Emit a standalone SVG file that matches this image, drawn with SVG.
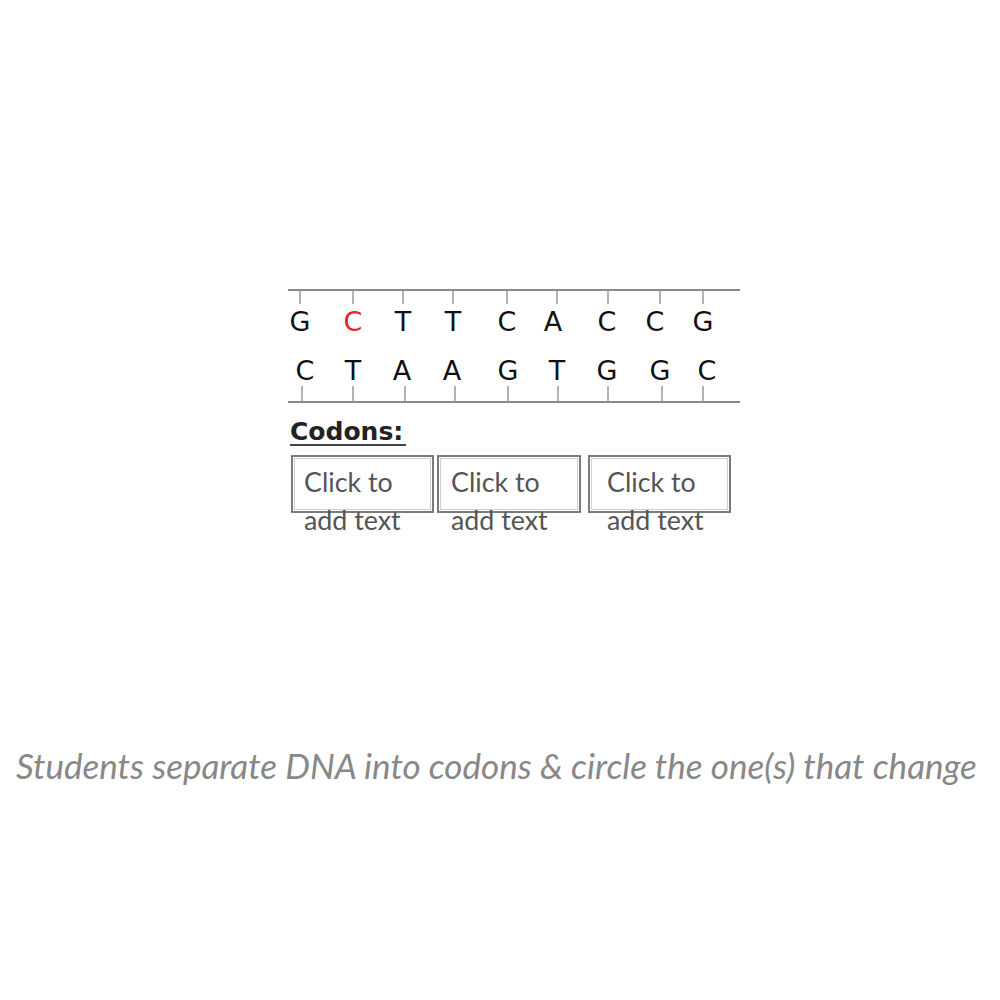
<svg xmlns="http://www.w3.org/2000/svg" width="1000" height="1000" viewBox="0 0 1000 1000">
<style>
.rail{stroke:#8a8a8a;stroke-width:2;fill:none}
.tick{stroke:#9a9a9a;stroke-width:1.5}
.base{font-family:"DejaVu Sans",sans-serif;font-size:27px;fill:#111;text-anchor:middle}
.red{fill:#e0262b}
.box{fill:#fff;stroke:#7a7a7a;stroke-width:2}
.boxin{fill:none;stroke:#d0d0d0;stroke-width:1}
.ph{font-family:Lato,"Liberation Sans",sans-serif;font-size:26.8px;fill:#555}
.cap{font-family:Lato,"Liberation Sans",sans-serif;font-style:italic;font-size:35px;fill:#888}
</style>
<rect width="1000" height="1000" fill="#fff"/>
<g id="dna">
<line class="rail" x1="288" y1="290" x2="740" y2="290"/>
<line class="rail" x1="288" y1="402" x2="740" y2="402"/>
<g class="tick">
<line x1="300" y1="290" x2="300" y2="304"/><line x1="353" y1="290" x2="353" y2="304"/><line x1="403" y1="290" x2="403" y2="304"/><line x1="453" y1="290" x2="453" y2="304"/><line x1="507" y1="290" x2="507" y2="304"/><line x1="557" y1="290" x2="557" y2="304"/><line x1="608" y1="290" x2="608" y2="304"/><line x1="660" y1="290" x2="660" y2="304"/><line x1="703" y1="290" x2="703" y2="304"/>
<line x1="302" y1="386" x2="302" y2="402"/><line x1="353" y1="386" x2="353" y2="402"/><line x1="405" y1="386" x2="405" y2="402"/><line x1="455" y1="386" x2="455" y2="402"/><line x1="508" y1="386" x2="508" y2="402"/><line x1="558" y1="386" x2="558" y2="402"/><line x1="608" y1="386" x2="608" y2="402"/><line x1="662" y1="386" x2="662" y2="402"/><line x1="703" y1="386" x2="703" y2="402"/>
</g>
<g id="top-strand">
<text class="base" x="300" y="331">G</text><text class="base red" x="353" y="331">C</text><text class="base" x="403" y="331">T</text><text class="base" x="453" y="331">T</text><text class="base" x="507" y="331">C</text><text class="base" x="553" y="331">A</text><text class="base" x="607" y="331">C</text><text class="base" x="655" y="331">C</text><text class="base" x="703" y="331">G</text>
</g>
<g id="bottom-strand">
<text class="base" x="305" y="380">C</text><text class="base" x="353" y="380">T</text><text class="base" x="402" y="380">A</text><text class="base" x="452" y="380">A</text><text class="base" x="508" y="380">G</text><text class="base" x="557" y="380">T</text><text class="base" x="607" y="380">G</text><text class="base" x="660" y="380">G</text><text class="base" x="707" y="380">C</text>
</g>
</g>
<g id="codons-label">
<text x="290" y="440" font-family="DejaVu Sans,sans-serif" font-size="25" font-weight="bold" fill="#222">Codons:</text>
<line x1="290" y1="445" x2="406" y2="445" stroke="#444" stroke-width="2"/>
</g>
<g id="codon1">
<rect class="box" x="292" y="456" width="141" height="56"/><rect class="boxin" x="294.5" y="458.5" width="136" height="51"/>
<text class="ph" x="304" y="492">Click to</text><text class="ph" x="304" y="530">add text</text>
</g>
<g id="codon2">
<rect class="box" x="438" y="456" width="142" height="56"/><rect class="boxin" x="440.5" y="458.5" width="137" height="51"/>
<text class="ph" x="451" y="492">Click to</text><text class="ph" x="451" y="530">add text</text>
</g>
<g id="codon3">
<rect class="box" x="589" y="456" width="141" height="56"/><rect class="boxin" x="591.5" y="458.5" width="136" height="51"/>
<text class="ph" x="607" y="492">Click to</text><text class="ph" x="607" y="530">add text</text>
</g>
<text id="caption" class="cap" x="16" y="779">Students separate DNA into codons &amp; circle the one(s) that change</text>
</svg>
